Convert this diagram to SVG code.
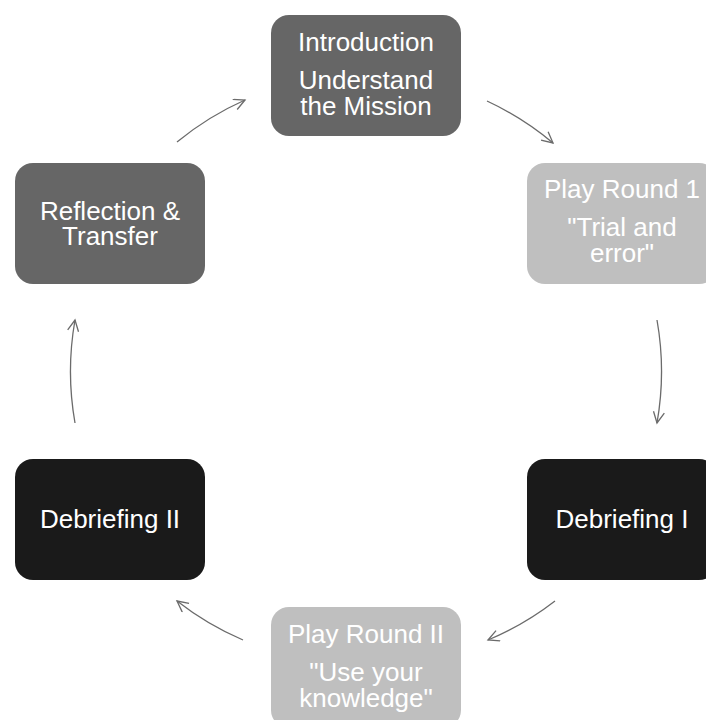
<svg xmlns="http://www.w3.org/2000/svg" width="706" height="720" viewBox="0 0 706 720">
<style>
.box{stroke:none}
.dark{fill:#666666}
.light{fill:#bfbfbf}
.black{fill:#1a1a1a}
.t{font-family:"Liberation Sans",Arial,sans-serif;font-size:26px;fill:#ffffff;text-anchor:middle}
.c{fill:none;stroke:#6b6b6b;stroke-width:1.3;marker-end:url(#ah)}
</style>
<defs>
<marker id="ah" markerUnits="userSpaceOnUse" markerWidth="14" markerHeight="14" refX="12" refY="6" orient="auto">
<path d="M1,0.5 L12,6 L1,11.5" fill="none" stroke="#6b6b6b" stroke-width="1.3"/>
</marker>
</defs>
<rect width="706" height="720" fill="#ffffff"/>
<g id="connectors">
<path class="c" d="M177,142 A296,296 0 0 1 245,100"/>
<path class="c" d="M487,101 A296,296 0 0 1 553,143"/>
<path class="c" d="M657,320 A296,296 0 0 1 657,423"/>
<path class="c" d="M555,601 A296,296 0 0 1 488,640"/>
<path class="c" d="M243,640 A296,296 0 0 1 177,601"/>
<path class="c" d="M75,423 A296,296 0 0 1 75,320"/>
</g>
<g id="intro">
<rect class="box dark" x="271" y="15" width="190" height="121" rx="18"/>
<text class="t" x="366" y="51">Introduction</text>
<text class="t" x="366" y="89">Understand</text>
<text class="t" x="366" y="114.5">the Mission</text>
</g>
<g id="round1">
<rect class="box light" x="527" y="163" width="190" height="121" rx="18"/>
<text class="t" x="622" y="198">Play Round 1</text>
<text class="t" x="622" y="236">"Trial and</text>
<text class="t" x="622" y="261.5">error"</text>
</g>
<g id="debrief1">
<rect class="box black" x="527" y="459" width="190" height="121" rx="18"/>
<text class="t" x="622" y="528">Debriefing I</text>
</g>
<g id="round2">
<rect class="box light" x="271" y="607" width="190" height="121" rx="18"/>
<text class="t" x="366" y="643">Play Round II</text>
<text class="t" x="366" y="681">"Use your</text>
<text class="t" x="366" y="706.5">knowledge"</text>
</g>
<g id="debrief2">
<rect class="box black" x="15" y="459" width="190" height="121" rx="18"/>
<text class="t" x="110" y="528">Debriefing II</text>
</g>
<g id="reflection">
<rect class="box dark" x="15" y="163" width="190" height="121" rx="18"/>
<text class="t" x="110" y="219.5">Reflection &amp;</text>
<text class="t" x="110" y="245">Transfer</text>
</g>
</svg>
